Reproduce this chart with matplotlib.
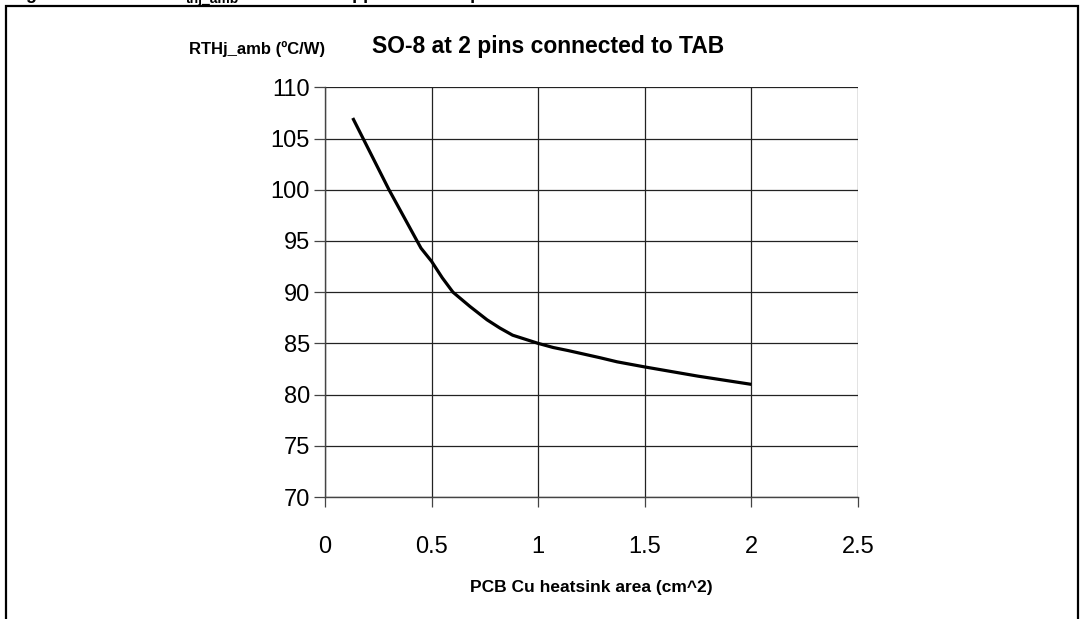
import matplotlib.pyplot as plt
from matplotlib.patches import Rectangle

# Values
area_cm2 = [0.13, 0.30, 0.45, 0.50, 0.55, 0.60, 0.68, 0.76, 0.82, 0.88, 0.94, 1.00,
            1.07, 1.14, 1.29, 1.37, 1.50, 1.75, 2.00]
rth_c_per_w = [107.0, 100.0, 94.3, 93.0, 91.4, 90.0, 88.6, 87.3, 86.5, 85.8, 85.4, 85.0,
               84.6, 84.3, 83.6, 83.2, 82.7, 81.8, 81.0]

x_ticks = [0, 0.5, 1, 1.5, 2, 2.5]
x_tick_labels = ["0", "0.5", "1", "1.5", "2", "2.5"]
y_ticks = [70, 75, 80, 85, 90, 95, 100, 105, 110]

plt.rcParams['font.family'] = ['Liberation Sans', 'DejaVu Sans']

fig = plt.figure(figsize=(10.82, 6.19), dpi=100)
ax = fig.add_axes([0.3004, 0.197, 0.4926, 0.662])

# outer frame of the figure box
fig.patches.append(Rectangle((6 / 1082, -0.05), 1072 / 1082, 1.05 - 6 / 619,
                             transform=fig.transFigure, fill=False,
                             edgecolor='black', linewidth=1.6))

# clipped caption above the box (only descenders remain visible)
fig.text(10 / 1082, 1.0 + 1 / 619, "Figure 32.  R", fontsize=13, fontweight='bold',
         ha='left', va='baseline')
fig.text(186 / 1082, 1.0 - 3 / 619, "thj_amb", fontsize=10, fontweight='bold',
         ha='left', va='baseline')
fig.text(258 / 1082, 1.0 + 1 / 619, " vs PCB copper area in open box free air condition",
         fontsize=13, fontweight='bold', ha='left', va='baseline')

ax.plot(area_cm2, rth_c_per_w, color='black', linewidth=2.3,
        solid_capstyle='butt', solid_joinstyle='round')

ax.set_xlim(0, 2.5)
ax.set_ylim(70, 110)
ax.set_xticks(x_ticks)
ax.set_xticklabels(x_tick_labels)
ax.set_yticks(y_ticks)
ax.grid(True, color='#222222', linewidth=0.9)
ax.set_axisbelow(True)

for side in ['top', 'right']:
    ax.spines[side].set_visible(False)
for side in ['left', 'bottom']:
    ax.spines[side].set_color('#444444')
    ax.spines[side].set_linewidth(1.0)

ax.tick_params(axis='x', length=7, width=0.9, color='#444444', pad=21, labelsize=17)
ax.tick_params(axis='y', length=8, width=0.9, color='#444444', pad=3, labelsize=17)

ax.set_xlabel("PCB Cu heatsink area (cm^2)", fontsize=12.5, fontweight='bold', labelpad=16)

fig.text(189 / 1082, 1 - 49 / 619, "RTHj_amb (ºC/W)", fontsize=12, fontweight='bold',
         ha='left', va='center')
fig.text(548 / 1082, 1 - 46 / 619, "SO-8 at 2 pins connected to TAB", fontsize=16.5,
         fontweight='bold', ha='center', va='center')

fig.savefig("out.png", dpi=100)
